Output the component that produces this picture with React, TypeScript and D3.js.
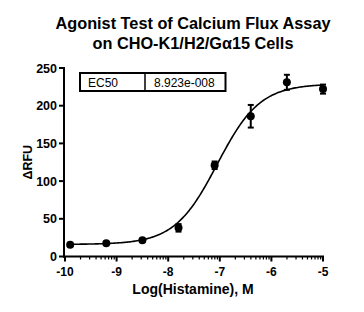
import React from "react";
import * as d3 from "d3";

const logConc = [-9.9, -9.2, -8.5, -7.8, -7.1, -6.4, -5.7, -5.0];
const meanRFU = [15.5, 17.5, 21.5, 38, 121, 186, 231, 222];
const semRFU = [1, 1, 1.5, 5, 5, 15, 10, 6];
const yTicks = [0, 50, 100, 150, 200, 250];
const xTicks = [-10, -9, -8, -7, -6, -5];
const fitBottom = 16;
const fitTop = 229;
const fitLogEC50 = Math.log10(8.923e-8);
const fitHill = 1.05;
const ec50Label = "8.923e-008";

const W = 364;
const H = 312;
const font = "'Liberation Sans', Arial, sans-serif";

export default function App() {
  const x = d3.scaleLinear().domain([-10, -5]).range([65, 323]);
  const y = d3.scaleLinear().domain([0, 250]).range([256.5, 68]);

  const curveX = d3.range(0, 201).map((i) => -9.9 + (i / 200) * 4.9);
  const fit = (lx: number) =>
    fitBottom + (fitTop - fitBottom) / (1 + Math.pow(10, (fitLogEC50 - lx) * fitHill));
  const line = d3
    .line<number>()
    .x((d) => x(d))
    .y((d) => y(fit(d)))
    .curve(d3.curveLinear);

  const minor: number[] = [];
  for (let dec = -10; dec < -5; dec++) {
    for (let k = 2; k <= 9; k++) minor.push(dec + Math.log10(k));
  }

  const axisY = y(0);
  return (
    <svg width={W} height={H} style={{ position: "absolute", left: 0, top: 0, background: "#fff" }}>
      <rect x={0} y={0} width={W} height={H} fill="#fff" />
      <text x={193} y={28.5} textAnchor="middle" fontFamily={font} fontWeight="bold" fontSize={16.3}>
        Agonist Test of Calcium Flux Assay
      </text>
      <text x={193} y={48.5} textAnchor="middle" fontFamily={font} fontWeight="bold" fontSize={16.3}>
        on CHO-K1/H2/Gα15 Cells
      </text>

      {/* y axis */}
      <line x1={64} x2={64} y1={y(250) - 1} y2={axisY + 1} stroke="#000" strokeWidth={2} />
      {yTicks.map((t) => (
        <g key={t}>
          <line x1={59} x2={64} y1={y(t)} y2={y(t)} stroke="#000" strokeWidth={2} />
          <text x={57} y={y(t) + 4.5} textAnchor="end" fontFamily={font} fontWeight="bold" fontSize={12.5}>
            {t}
          </text>
        </g>
      ))}
      <text
        transform={`translate(32,${y(125)}) rotate(-90)`}
        textAnchor="middle"
        fontFamily={font}
        fontWeight="bold"
        fontSize={12.5}
      >
        ΔRFU
      </text>

      {/* x axis */}
      <line x1={63} x2={x(-5) + 1} y1={axisY} y2={axisY} stroke="#000" strokeWidth={2} />
      {minor.map((m, i) => (
        <line key={i} x1={x(m)} x2={x(m)} y1={axisY} y2={axisY + 3} stroke="#000" strokeWidth={1.2} />
      ))}
      {xTicks.map((t) => (
        <g key={t}>
          <line x1={x(t)} x2={x(t)} y1={axisY} y2={axisY + 5} stroke="#000" strokeWidth={2} />
          <text x={x(t)} y={276} textAnchor="middle" fontFamily={font} fontWeight="bold" fontSize={12}>
            {t}
          </text>
        </g>
      ))}
      <text x={193} y={294} textAnchor="middle" fontFamily={font} fontWeight="bold" fontSize={14}>
        Log(Histamine), M
      </text>

      {/* fit curve */}
      <path d={line(curveX) || ""} fill="none" stroke="#000" strokeWidth={1.6} />

      {/* error bars */}
      {logConc.map((c, i) => {
        const e = semRFU[i];
        if (e < 3) return null;
        const cx = x(c);
        const t = y(meanRFU[i] + e);
        const b = y(meanRFU[i] - e);
        return (
          <g key={i} stroke="#000" strokeWidth={2}>
            <line x1={cx} x2={cx} y1={t} y2={b} />
            <line x1={cx - 3} x2={cx + 3} y1={t} y2={t} />
            <line x1={cx - 3} x2={cx + 3} y1={b} y2={b} />
          </g>
        );
      })}
      {logConc.map((c, i) => (
        <circle key={i} cx={x(c)} cy={y(meanRFU[i])} r={4} fill="#000" />
      ))}

      {/* EC50 box */}
      <rect x={80} y={73} width={145.5} height={18} fill="#fff" stroke="#000" strokeWidth={2} />
      <line x1={145} x2={145} y1={73} y2={91} stroke="#000" strokeWidth={1.5} />
      <text x={88} y={86.5} fontFamily={font} fontSize={12}>
        EC50
      </text>
      <text x={154} y={86.5} fontFamily={font} fontSize={12}>
        {ec50Label}
      </text>
    </svg>
  );
}
